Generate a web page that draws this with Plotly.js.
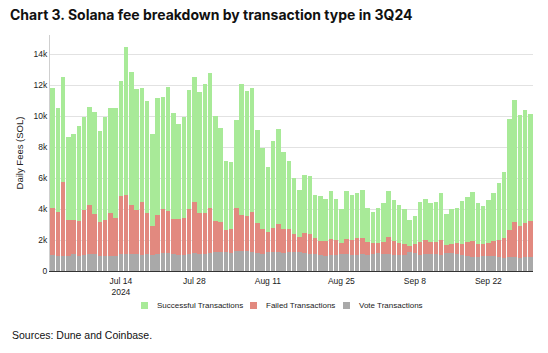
<!DOCTYPE html>
<html>
<head>
<meta charset="utf-8">
<script src="https://cdn.plot.ly/plotly-3.0.1.min.js"></script>
<style>html,body{margin:0;padding:0;background:#fff}#chart{width:548px;height:353px}</style>
</head>
<body>
<div id="chart"></div>
<script>
// Daily fees (SOL), 1 Jul 2024 – 30 Sep 2024
const startDate = '2024-07-01';
const nDays = 92;
const voteFees = [1010,1000,1000,1000,1080,1000,1020,1080,1080,1000,950,1000,950,1120,1120,1120,1120,1050,1120,1030,1100,1180,1180,1080,1030,1030,1080,1180,1100,1120,1140,1230,1230,1210,1140,1290,1290,1290,1230,1180,1120,1210,1230,1210,1160,1250,1230,1210,1180,1100,1100,1010,990,1010,1010,1080,1100,1030,1030,1080,1010,1100,1140,1100,1100,1010,1010,1010,1200,1180,1030,1080,1080,1080,1010,1140,1140,1120,1030,970,900,900,950,970,950,900,860,880,920,860,920,920];
const failedFees = [3080,2830,4780,2290,2230,2200,2920,3160,2600,2140,2340,2740,2490,3720,3800,3120,2820,3440,2640,1890,2490,2800,2670,2300,2350,2410,2900,3310,2660,2660,2960,1970,1910,1440,1550,2750,2300,2280,2600,1900,1570,1280,1570,1820,1530,1440,1140,960,1250,1270,1010,950,950,1030,970,700,990,970,1080,1030,840,680,690,750,1090,930,820,750,430,560,860,900,770,770,970,520,620,660,690,900,1040,820,770,810,990,1120,1250,1790,2240,2060,2180,2280];
const successFees = [7760,6690,6760,5380,5550,6150,6040,6360,6620,5910,6690,6820,7120,7440,9530,8640,7820,7310,7210,5920,7570,7250,8020,6840,6100,6540,7740,8030,7830,8280,8700,6820,6110,4470,4340,5700,8500,8090,7970,6040,5290,4240,5610,6130,4970,4450,3650,3080,3760,3760,2790,2900,2710,3140,2670,2220,3090,2920,2900,3140,2250,2030,2230,2540,3010,2660,2450,2260,1680,1810,2580,2690,2520,2580,3030,2040,2260,2320,2800,2900,3160,2670,2470,2800,3090,3680,4300,7140,7890,7190,7310,6950];
const seriesNames = ['Vote Transactions','Failed Transactions','Successful Transactions'];
const seriesColors = ['#a9a9a9','#e2897f','#a8ea98'];

const dates = [];
const d0 = new Date(startDate + 'T00:00:00Z');
for (let i = 0; i < nDays; i++) {
  const d = new Date(d0.getTime() + i * 86400000);
  dates.push(d.toISOString().slice(0, 10));
}

const values = [voteFees, failedFees, successFees];
const traces = values.map((v, i) => ({
  type: 'bar',
  x: dates,
  y: v,
  name: seriesNames[i],
  marker: {color: seriesColors[i], line: {width: 0}},
  showlegend: false
}));

// plot area geometry (px) used to place the hand-drawn legend
const M = {l: 50, r: 15, t: 35, b: 82};
const W = 548, H = 353;
const pw = W - M.l - M.r, ph = H - M.t - M.b;
const px = x => (x - M.l) / pw;
const py = y => (H - M.b - y) / ph;

const SANS = 'Liberation Sans, Arial, sans-serif';
// legend entries: order as shown (Successful, Failed, Vote)
const legendOrder = [2, 1, 0];
const legendSquareX = [141, 250, 343];
const legendY = 305.5;
const shapes = [], annotations = [];
legendOrder.forEach((si, k) => {
  const x0 = legendSquareX[k];
  shapes.push({type: 'rect', xref: 'paper', yref: 'paper',
    x0: px(x0), x1: px(x0 + 7), y0: py(legendY - 3.5), y1: py(legendY + 3.5),
    fillcolor: seriesColors[si], line: {width: 0}});
  annotations.push({text: seriesNames[si], xref: 'paper', yref: 'paper',
    x: px(x0 + 14), xanchor: 'left', y: py(legendY), yanchor: 'middle',
    showarrow: false, font: {family: SANS, size: 8, color: '#222'}});
});
annotations.push({
  text: 'Sources: Dune and Coinbase.',
  xref: 'paper', yref: 'paper',
  x: px(10), xanchor: 'left', y: py(335), yanchor: 'middle',
  showarrow: false,
  font: {family: SANS, size: 10.5, color: '#111'}
});

const layout = {
  width: W, height: H,
  barmode: 'stack',
  bargap: 0.1,
  paper_bgcolor: '#fff', plot_bgcolor: '#fff',
  margin: M,
  font: {family: SANS, size: 9, color: '#222'},
  title: {
    text: '<b>Chart 3. Solana fee breakdown by transaction type in 3Q24</b>',
    font: {family: 'Inter, Liberation Sans, sans-serif', size: 14, color: '#111'},
    x: 10 / W, xref: 'container', xanchor: 'left',
    y: 1 - 15.5 / H, yref: 'container', yanchor: 'middle'
  },
  xaxis: {
    type: 'date',
    range: ['2024-06-30 12:00', '2024-09-30 12:00'],
    tick0: '2024-07-14', dtick: 14 * 86400000,
    showgrid: false, showline: true, linecolor: '#333', linewidth: 1,
    ticks: '', ticklabelstandoff: 2,
    tickfont: {family: SANS, size: 8.5, color: '#222'}
  },
  yaxis: {
    range: [0, 15250],
    dtick: 2000,
    showgrid: true, gridcolor: '#e2e2e2', gridwidth: 1,
    showline: true, linecolor: '#cfcfcf', linewidth: 1,
    zeroline: false,
    ticks: '', tickfont: {family: SANS, size: 8.5, color: '#222'},
    title: {text: 'Daily Fees (SOL)', font: {family: SANS, size: 9.5, color: '#222'}, standoff: 8}
  },
  showlegend: false,
  shapes: shapes,
  annotations: annotations
};

Plotly.newPlot('chart', traces, layout, {displayModeBar: false, staticPlot: true});
</script>
</body>
</html>
